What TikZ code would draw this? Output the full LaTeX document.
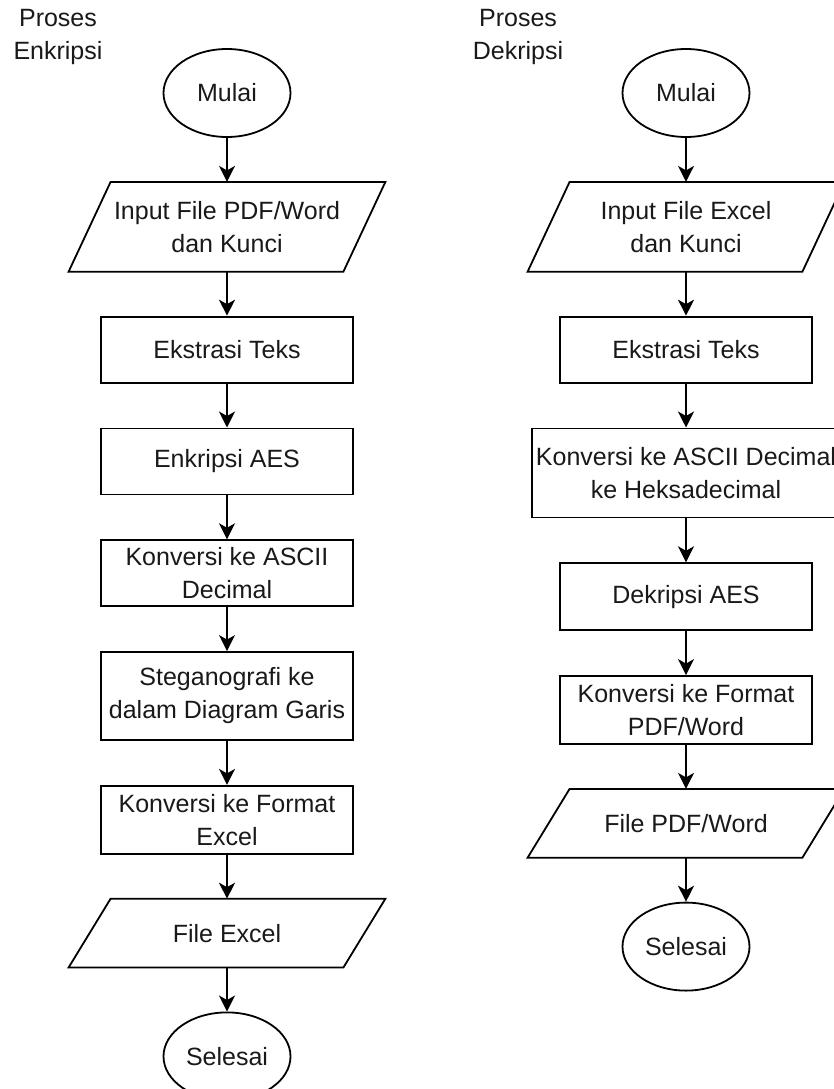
\documentclass[tikz,border=0pt]{standalone}
\usepackage{fontspec}
\setmainfont{Liberation Sans}
\usepackage{tikz}
\usetikzlibrary{positioning,shapes.geometric,arrows.meta}

\begin{document}
\begin{tikzpicture}[
    x=1pt, y=-1pt,
    node distance=44pt,
    % Style definitions
    every node/.style={font=\fontsize{25}{33}\selectfont, text=black!90},
    base/.style={draw=black, line width=1.8pt, align=center, inner sep=2pt},
    terminal/.style={base, ellipse, minimum width=127pt, minimum height=88pt},
    io/.style={align=center, inner sep=2pt, outer sep=0.9pt, minimum width=273pt, minimum height=88pt},
    ioline/.style={draw=black, line width=1.8pt, line join=miter},
    process/.style={base, rectangle, minimum width=252pt, minimum height=66pt},
    title/.style={align=center, inner sep=0pt},
    arrow/.style={-{Stealth[length=16pt, width=16pt, inset=4.5pt]}, line width=1.8pt, draw=black}
]
\useasboundingbox (0,0) rectangle (833,1089);

% Column 1: Enkripsi
\node[title] (titleEnk) at (58,37) {Proses\\Enkripsi};
\node[terminal] (mulaiEnk) at (227,93) {Mulai};
\node[io, below=of mulaiEnk] (inputEnk) {Input File PDF/Word\\dan Kunci};
\node[process, below=of inputEnk] (ekstrEnk) {Ekstrasi Teks};
\node[process, below=of ekstrEnk] (aesEnk) {Enkripsi AES};
\node[process, below=of aesEnk] (asciiEnk) {Konversi ke ASCII\\Decimal};
\node[process, below=of asciiEnk, minimum height=88pt] (stegoEnk) {Steganografi ke\\dalam Diagram Garis};
\node[process, below=of stegoEnk, minimum height=68pt] (formatEnk) {Konversi ke Format\\Excel};
\node[io, below=of formatEnk, minimum height=67pt] (fileEnk) {File Excel};
\node[terminal, below=of fileEnk] (selesaiEnk) {Selesai};

% Column 2: Dekripsi
\node[title] (titleDek) at (518,37) {Proses\\Dekripsi};
\node[terminal] (mulaiDek) at (686,93) {Mulai};
\node[io, below=of mulaiDek] (inputDek) {Input File Excel\\dan Kunci};
\node[process, below=of inputDek] (ekstrDek) {Ekstrasi Teks};
\node[process, below=of ekstrDek, minimum width=308pt, minimum height=89pt] (heksDek) {Konversi ke ASCII Decimal\\ke Heksadecimal};
\node[process, below=of heksDek, minimum height=67pt] (aesDek) {Dekripsi AES};
\node[process, below=of aesDek, minimum height=68pt] (formatDek) {Konversi ke Format\\PDF/Word};
\node[io, below=of formatDek, minimum height=67pt] (fileDek) {File PDF/Word};
\node[terminal, below=of fileDek] (selesaiDek) {Selesai};

% Parallelogram outlines for the input/output nodes
\foreach \n in {inputEnk, fileEnk, inputDek, fileDek}
    \draw[ioline] ([xshift=-21pt]\n.south west) -- ([xshift=-21pt]\n.south east)
        -- ([xshift=21pt]\n.north east) -- ([xshift=21pt]\n.north west) -- cycle;

% Connections
\draw[arrow] (mulaiEnk) -- (inputEnk);
\draw[arrow] (inputEnk) -- (ekstrEnk);
\draw[arrow] (ekstrEnk) -- (aesEnk);
\draw[arrow] (aesEnk) -- (asciiEnk);
\draw[arrow] (asciiEnk) -- (stegoEnk);
\draw[arrow] (stegoEnk) -- (formatEnk);
\draw[arrow] (formatEnk) -- (fileEnk);
\draw[arrow] (fileEnk) -- (selesaiEnk);

\draw[arrow] (mulaiDek) -- (inputDek);
\draw[arrow] (inputDek) -- (ekstrDek);
\draw[arrow] (ekstrDek) -- (heksDek);
\draw[arrow] (heksDek) -- (aesDek);
\draw[arrow] (aesDek) -- (formatDek);
\draw[arrow] (formatDek) -- (fileDek);
\draw[arrow] (fileDek) -- (selesaiDek);

\end{tikzpicture}
\end{document}
